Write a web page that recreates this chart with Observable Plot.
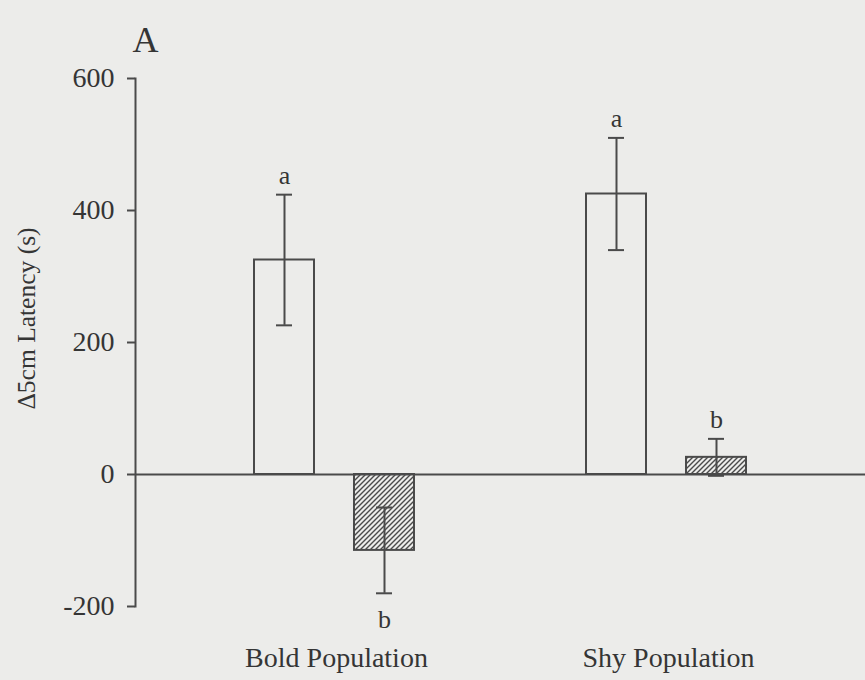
<!DOCTYPE html>
<html>
<head>
<meta charset="utf-8">
<script src="https://cdn.jsdelivr.net/npm/d3@7"></script>
<script src="https://cdn.jsdelivr.net/npm/@observablehq/plot@0.6"></script>
<style>
  html, body { margin: 0; padding: 0; background: #ececea; }
  #chart svg { display: block; }
</style>
</head>
<body>
<div id="chart"></div>
<script>
// Population groups on the x axis
const groups = ["Bold Population", "Shy Population"];

// Open bars: mean change in latency and standard error
const controlMean = [325, 425];
const controlSE = [99, 85];
const controlLetters = ["a", "a"];

// Hatched bars: mean change in latency and standard error
const treatedMean = [-115, 26];
const treatedSE = [65, 28];
const treatedLetters = ["b", "b"];

const yTicks = [-200, 0, 200, 400, 600];
const panelLabel = "A";
const yLabel = "Δ5cm Latency (s)";

const control = groups.map((g, i) => ({group: g, mean: controlMean[i], se: controlSE[i], letter: controlLetters[i]}));
const treated = groups.map((g, i) => ({group: g, mean: treatedMean[i], se: treatedSE[i], letter: treatedLetters[i]}));

const ink = "#4a4a4a";
const textInk = "#353535";
const serif = "'Liberation Serif', 'Times New Roman', serif";

// Bar, error bar with caps and significance letter for one condition
function condition(rows, dx, fill) {
  return [
    Plot.barY(rows, {x: "group", y: "mean", fill, stroke: ink, strokeWidth: 2, dx}),
    Plot.ruleX(rows, {x: "group", y1: d => d.mean - d.se, y2: d => d.mean + d.se, stroke: ink, strokeWidth: 2, dx}),
    Plot.tickY(rows, {x: "group", y: d => d.mean + d.se, stroke: ink, strokeWidth: 2, insetLeft: 22, insetRight: 22, dx}),
    Plot.tickY(rows, {x: "group", y: d => d.mean - d.se, stroke: ink, strokeWidth: 2, insetLeft: 22, insetRight: 22, dx}),
    Plot.text(rows.filter(d => d.mean >= 0), {x: "group", y: d => d.mean + d.se, text: "letter", dx, dy: -19, fontSize: 26, fill: textInk}),
    Plot.text(rows.filter(d => d.mean < 0), {x: "group", y: d => d.mean - d.se, text: "letter", dx, dy: 26, fontSize: 26, fill: textInk})
  ];
}

const svg = Plot.plot({
  width: 865,
  height: 680,
  marginLeft: 135,
  marginRight: 0,
  marginTop: 78,
  marginBottom: 74,
  style: {fontFamily: serif, background: "#ececea", color: textInk},
  x: {type: "band", domain: groups, paddingInner: 0.8193, paddingOuter: 0.5086},
  y: {domain: [-200, 600]},
  marks: [
    Plot.frame({anchor: "left", stroke: ink, strokeWidth: 2}),
    Plot.ruleY([0], {stroke: ink, strokeWidth: 2}),
    ...condition(control, -50, "none"),
    ...condition(treated, 50, "url(#hatch)"),
    Plot.axisY({ticks: yTicks, tickSize: 8, tickPadding: 13, tickFormat: d => `${d}`, fontSize: 28, label: null, stroke: ink, strokeWidth: 2, color: textInk}),
    Plot.axisX({tickSize: 0, tickPadding: 41, fontSize: 28, label: null, color: textInk, dx: 2}),
    Plot.text([yLabel], {frameAnchor: "left", text: d => d, rotate: -90, textAnchor: "middle", dx: -109, dy: -24, fontSize: 25.5, fill: textInk}),
    Plot.text([panelLabel], {frameAnchor: "top-left", text: d => d, textAnchor: "start", dx: -3, dy: -52, fontSize: 36, fill: textInk})
  ]
});

// Diagonal hatch fill used by the hatched bars
const defs = d3.select(svg).insert("defs", ":first-child");
const pattern = defs.append("pattern")
  .attr("id", "hatch")
  .attr("patternUnits", "userSpaceOnUse")
  .attr("width", 5)
  .attr("height", 5);
pattern.append("path")
  .attr("d", "M-1,1 L1,-1 M0,5 L5,0 M4,6 L6,4")
  .attr("stroke", ink)
  .attr("stroke-width", 1.4);

document.getElementById("chart").appendChild(svg);
</script>
</body>
</html>
